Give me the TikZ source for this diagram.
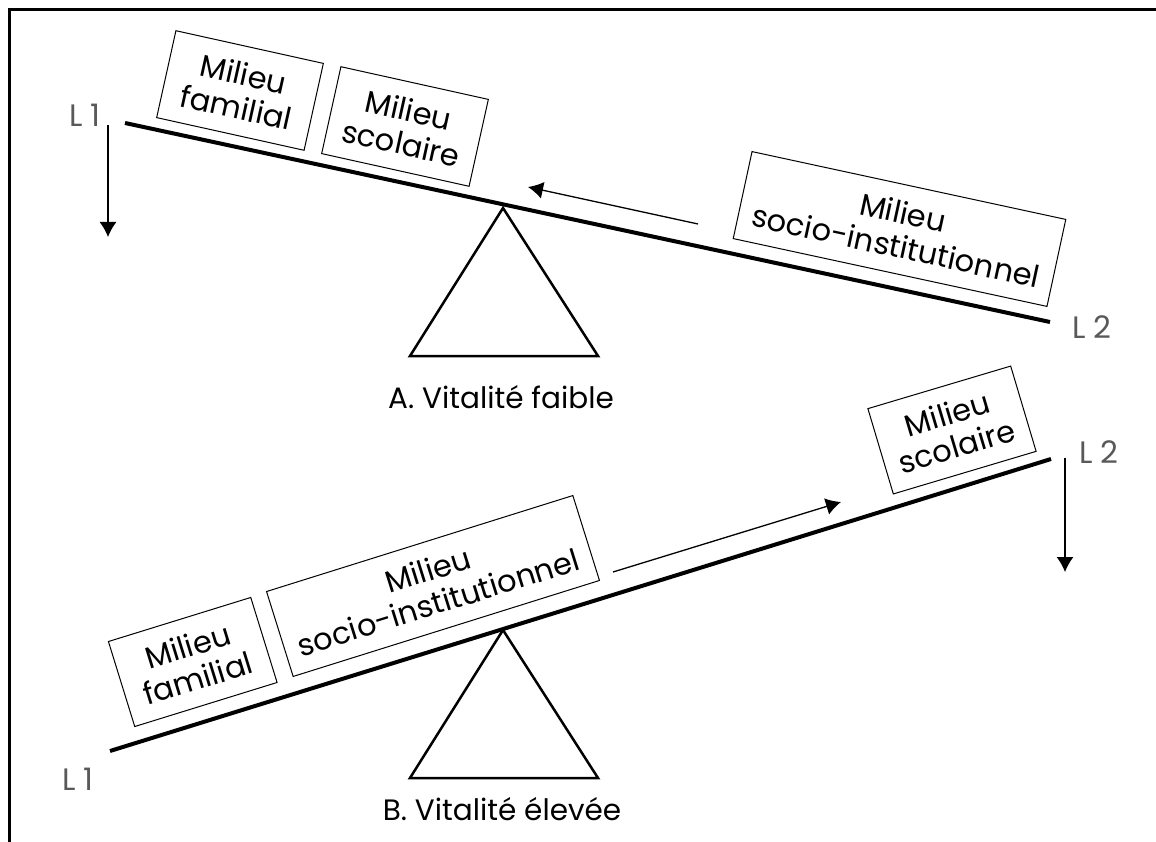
\documentclass[tikz,border=0pt]{standalone}
\usepackage{fontspec}
\setmainfont{Poppins}
\usetikzlibrary{positioning}
\usetikzlibrary{calc}
\usetikzlibrary{arrows.meta}
\tikzset{every picture/.style={x=1pt,y=-1pt}}

\begin{document}
\begin{tikzpicture}[milieu/.style={draw, line width=1pt, inner sep=0pt, minimum height=89pt, align=center, font=\fontsize{30.5}{34}\selectfont},
beam/.style={line width=4pt},
pivot/.style={line width=2.5pt, line join=miter},
poids/.style={line width=1.3pt, -{Latex[length=15pt,width=17pt]}},
lab/.style={font=\fontsize{31}{32}\selectfont\setlength{\spaceskip}{8pt}, text=black!65},
titre/.style={font=\fontsize{29.5}{32}\selectfont, anchor=base}]
\useasboundingbox (0,0) rectangle (1156,842);
\draw[line width=3pt] (1160,10) -- (9,10) -- (9,846);

\foreach \t/\ya in {a/208,b/630} {
\coordinate (apex\t) at (503,\ya);
\draw[pivot] (apex\t) -- ++(-93,148) -- ++(188,0) -- cycle;
}

\coordinate (a1) at (125,123);
\coordinate (a2) at (1050,322);
\draw[beam] (a1) -- (a2);
\node[milieu, minimum width=151pt, rotate=-12.5] (famA) at (240,90.5) {Milieu\\familial};
\node[milieu, minimum width=151pt, rotate=-12.5] (scoA) at (405,126.5) {Milieu\\scolaire};
\node[milieu, minimum width=321pt, rotate=-12.2] (socA) at (899.5,229) {Milieu\\socio-institutionnel};
\coordinate (fa0) at (698,224);
\coordinate (fa1) at (528,187);
\draw[poids] (fa0) -- (fa1);
\node[lab] (l1a) at (85,115) {L 1};
\node[lab] (l2a) at (1092,327) {L 2};
\coordinate (da0) at (108,125);
\coordinate (da1) at (108,237);
\draw[poids] (da0) -- (da1);
\node[titre] (titreA) at (501,408) {A. Vitalité faible};

\coordinate (b1) at (110,751);
\coordinate (b2) at (1051,459);
\draw[beam] (b1) -- (b2);
\node[milieu, minimum width=149pt, rotate=17.2] (famB) at (192.75,662) {Milieu\\familial};
\node[milieu, minimum width=321pt, rotate=17.4] (socB) at (433,586) {Milieu\\socio-institutionnel};
\node[milieu, minimum width=149pt, rotate=16.6] (scoB) at (952,430) {Milieu\\scolaire};
\coordinate (fb0) at (613,572);
\coordinate (fb1) at (841,502);
\draw[poids] (fb0) -- (fb1);
\node[lab] (l1b) at (78,779) {L 1};
\node[lab] (l2b) at (1099,452) {L 2};
\coordinate (db0) at (1065,458);
\coordinate (db1) at (1065,572);
\draw[poids] (db0) -- (db1);
\node[titre] (titreB) at (502,820) {B. Vitalité élevée};
\end{tikzpicture}
\end{document}
